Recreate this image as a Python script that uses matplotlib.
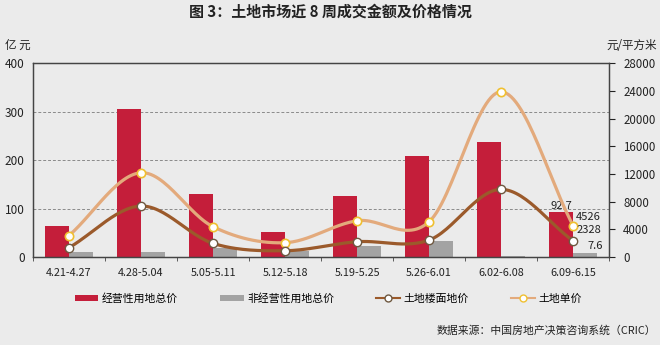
import numpy as np
import matplotlib
matplotlib.use('Agg')
import matplotlib.pyplot as plt
from matplotlib.lines import Line2D
from matplotlib.patches import Patch

plt.rcParams['font.family'] = ['Noto Sans CJK SC', 'DejaVu Sans']

weeks = ['4.21-4.27', '4.28-5.04', '5.05-5.11', '5.12-5.18',
         '5.19-5.25', '5.26-6.01', '6.02-6.08', '6.09-6.15']
commercial_total = [64, 305, 130, 51, 126, 209, 238, 92.7]   # 亿元
other_total = [10, 10, 18, 13, 22, 33, 2, 7.6]             # 亿元
floor_price = [1350, 7360, 1970, 910, 2210, 2450, 9770, 2328]    # 元/平方米
unit_price = [3100, 12170, 4380, 2070, 5240, 5100, 23860, 4526]  # 元/平方米

BG = '#ebebeb'
RED = '#c41e3a'
GRAY = '#a3a3a3'
BROWN = '#9b5a2b'
TAN = '#e3aa7c'


def smooth(x, y, n=30):
    # Catmull-Rom style curve through every point, like a spreadsheet "smoothed line"
    x = np.asarray(x, float)
    y = np.asarray(y, float)
    px = np.concatenate([[2 * x[0] - x[1]], x, [2 * x[-1] - x[-2]]])
    py = np.concatenate([[2 * y[0] - y[1]], y, [2 * y[-1] - y[-2]]])
    xs, ys = [], []
    t = np.linspace(0, 1, n)
    for i in range(1, len(px) - 2):
        p0, p1, p2, p3 = [np.array([px[j], py[j]]) for j in (i - 1, i, i + 1, i + 2)]
        c1 = p1 + (p2 - p0) / 6
        c2 = p2 - (p3 - p1) / 6
        pts = ((1 - t)[:, None] ** 3 * p1 + 3 * ((1 - t) ** 2 * t)[:, None] * c1
               + 3 * ((1 - t) * t ** 2)[:, None] * c2 + (t ** 3)[:, None] * p2)
        xs.extend(pts[:, 0])
        ys.extend(pts[:, 1])
    return np.array(xs), np.array(ys)


fig = plt.figure(figsize=(6.6, 3.45), dpi=100, facecolor=BG)
ax = fig.add_axes([0.05, 0.255, 0.873, 0.562], facecolor=BG)
ax2 = ax.twinx()

x = np.arange(len(weeks))
w = 0.333
ax.bar(x - w / 2, commercial_total, w, color=RED, zorder=2)
ax.bar(x + w / 2, other_total, w, color=GRAY, zorder=2)

ax.set_xlim(-0.5, len(weeks) - 0.5)
ax.set_ylim(0, 400)
ax.set_yticks([0, 100, 200, 300, 400])
ax.yaxis.grid(True, linestyle=(0, (3, 2)), color='#8a8a8a', linewidth=0.7)
ax.set_axisbelow(True)
ax.tick_params(axis='y', length=0, labelsize=8.5, pad=6, colors='#222222')
ax.set_xticks(x)
ax.set_xticklabels(weeks)
ax.set_xticks(np.arange(-0.5, len(weeks)), minor=True)
ax.tick_params(axis='x', which='major', length=0, labelsize=7.8, pad=8, colors='#222222')
ax.tick_params(axis='x', which='minor', length=3, direction='out', color='#444444')

for spine in ax.spines.values():
    spine.set_color('#444444')
    spine.set_linewidth(0.9)
for spine in ax2.spines.values():
    spine.set_color('#444444')
    spine.set_linewidth(0.9)

sx, sy = smooth(x, unit_price)
ax2.plot(sx, sy, color=TAN, linewidth=2.3, zorder=3, solid_capstyle='round')
ax2.plot(x, unit_price, 'o', markersize=6, markerfacecolor='white',
         markeredgecolor='#f0c030', markeredgewidth=1.2, zorder=4)
sx, sy = smooth(x, floor_price)
ax2.plot(sx, sy, color=BROWN, linewidth=2.3, zorder=3, solid_capstyle='round')
ax2.plot(x, floor_price, 'o', markersize=6, markerfacecolor='white',
         markeredgecolor='#6e5840', markeredgewidth=1.0, zorder=4)

ax2.set_ylim(0, 28000)
ax2.set_yticks(np.arange(0, 28001, 4000))
ax2.tick_params(axis='y', length=4, direction='out', labelsize=8.3, pad=6,
                colors='#222222')

# value labels for the latest week
last = len(weeks) - 1
ax.text(last - w / 2, commercial_total[-1] + 3, f'{commercial_total[-1]:g}',
        ha='center', va='bottom', fontsize=8, color='#222222', zorder=5)
ax.text(last + 0.2, other_total[-1] + 5, f'{other_total[-1]:g}',
        ha='left', va='bottom', fontsize=8, color='#222222', zorder=5)
ax2.text(last + 0.03, unit_price[-1] + 500, f'{unit_price[-1]}',
         ha='left', va='bottom', fontsize=8, color='#222222', zorder=5)
ax2.text(last + 0.05, floor_price[-1] + 800, f'{floor_price[-1]}',
         ha='left', va='bottom', fontsize=8, color='#222222', zorder=5)

fig.text(0.5, 0.965, '图 3：土地市场近 8 周成交金额及价格情况', ha='center', va='center',
         fontsize=10.8, fontweight='bold', color='#222222')
fig.text(0.008, 0.868, '亿 元', ha='left', va='center', fontsize=8.3, color='#222222')
fig.text(0.995, 0.868, '元/平方米', ha='right', va='center', fontsize=8.3, color='#222222')

handles = [
    Patch(facecolor=RED, edgecolor='none'),
    Patch(facecolor=GRAY, edgecolor='none'),
    Line2D([0], [0], color=BROWN, linewidth=1.5, marker='o', markersize=5,
           markerfacecolor='white', markeredgecolor='#6e5840'),
    Line2D([0], [0], color=TAN, linewidth=1.5, marker='o', markersize=5,
           markerfacecolor='white', markeredgecolor='#f0c030'),
]
labels = ['经营性用地总价', '非经营性用地总价', '土地楼面地价', '土地单价']
fig.legend(handles, labels, loc='center', bbox_to_anchor=(0.497, 0.135), ncol=4,
           frameon=False, fontsize=7.8, columnspacing=3.9, handlelength=2.2,
           handleheight=0.6, handletextpad=0.3)

fig.text(0.994, 0.043, '数据来源：中国房地产决策咨询系统（CRIC）', ha='right', va='center',
         fontsize=7.8, color='#222222')

fig.savefig('out.png', dpi=100, facecolor=BG)
